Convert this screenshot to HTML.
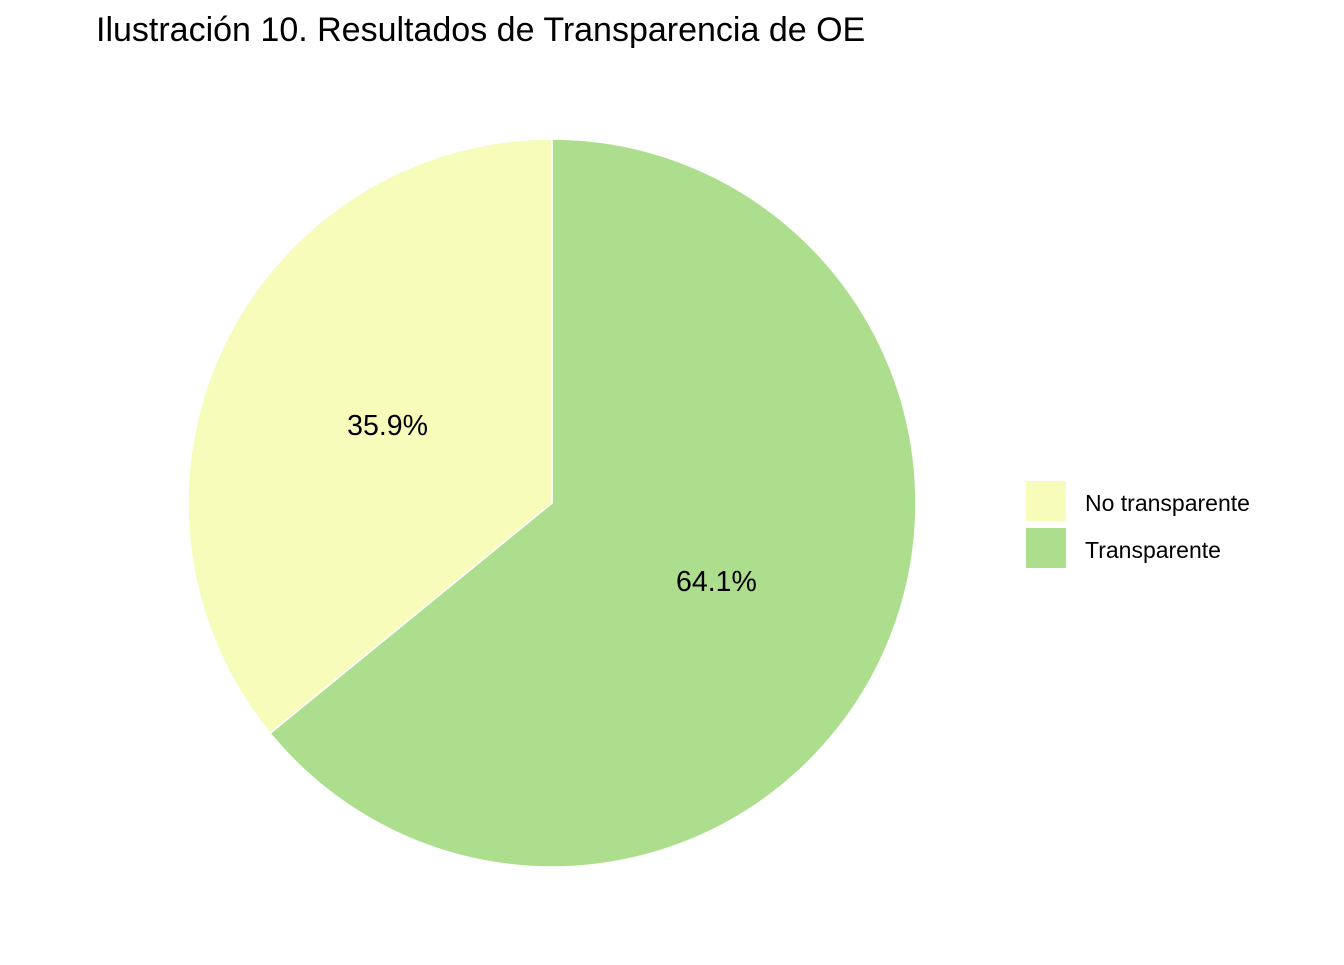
<!DOCTYPE html>
<html><head><meta charset="utf-8">
<style>
html,body{margin:0;padding:0;background:#fff;}
body{width:1344px;height:960px;overflow:hidden;font-family:"Liberation Sans",Arial,sans-serif;}
</style></head>
<body>
<svg id="chart" width="1344" height="960" xmlns="http://www.w3.org/2000/svg">
<text x="96" y="41" font-size="34" fill="#000" font-family="Liberation Sans, sans-serif">Ilustración 10. Resultados de Transparencia de OE</text>
<g id="slices"></g>
<g id="labels"></g>
<g>
<rect x="1026" y="481" width="40" height="40" fill="#F7FCBA"/>
<text x="1085" y="511" font-size="23" fill="#000">No transparente</text>
<rect x="1026" y="528" width="40" height="40" fill="#ADDE8E"/>
<text x="1085" y="558" font-size="23" fill="#000">Transparente</text>
</g>
</svg>
<script>
const categories = ["Transparente", "No transparente"];
const values = [64.1, 35.9];
const colors = ["#ADDE8E", "#F7FCBA"];
const labels = ["64.1%", "35.9%"];
const cx = 552, cy = 503, R = 364;
const NS = "http://www.w3.org/2000/svg";
const total = values.reduce((a,b)=>a+b,0);
function pt(frac, r){ const a = frac*2*Math.PI; return [cx + r*Math.sin(a), cy - r*Math.cos(a)]; }
let acc = 0;
const gS = document.getElementById('slices'), gL = document.getElementById('labels');
values.forEach((v,i)=>{
  const f0 = acc/total, f1 = (acc+v)/total; acc += v;
  const [x0,y0] = pt(f0,R), [x1,y1] = pt(f1,R);
  const large = (f1-f0) > 0.5 ? 1 : 0;
  const p = document.createElementNS(NS,'path');
  p.setAttribute('d', `M${cx},${cy} L${x0},${y0} A${R},${R} 0 ${large} 1 ${x1},${y1} Z`);
  p.setAttribute('fill', colors[i]);
  p.setAttribute('stroke', '#fff');
  p.setAttribute('stroke-width', '1.5');
  
  
  gS.appendChild(p);
  const [lx,ly] = pt((f0+f1)/2, R/2);
  const t = document.createElementNS(NS,'text');
  t.setAttribute('x', lx); t.setAttribute('y', ly + 10);
  t.setAttribute('text-anchor','middle');
  t.setAttribute('font-size','28.5');
  t.textContent = labels[i];
  
  
  gL.appendChild(t);
});
</script>
</body></html>
